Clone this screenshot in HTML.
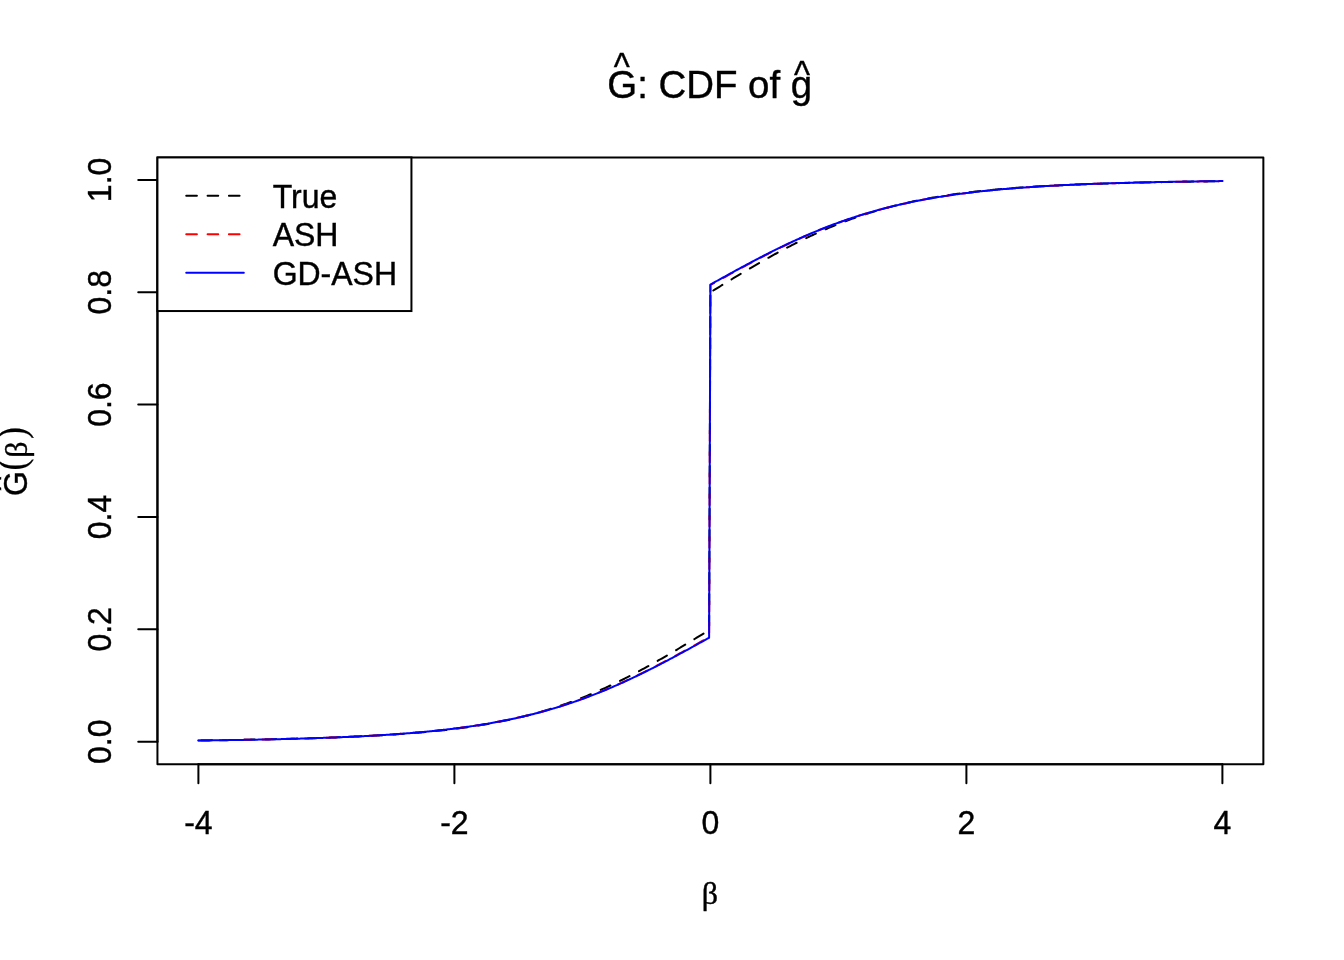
<!DOCTYPE html>
<html><head><meta charset="utf-8"><title>G-hat: CDF of g-hat</title>
<style>
html,body{margin:0;padding:0;background:#fff;}
svg{display:block;}
text{font-family:"Liberation Sans",Arial,Helvetica,sans-serif;fill:#000;stroke:#000;stroke-width:0.4px;}
.sym{font-family:"Liberation Serif","Times New Roman",serif;}
.par{font-family:"Liberation Serif","Times New Roman",serif;stroke-width:0.2px;}
.ln{fill:none;stroke-width:2;stroke-linecap:round;stroke-linejoin:round;}
</style></head><body>
<svg width="1344" height="960" viewBox="0 0 1344 960">
<rect width="1344" height="960" fill="#fff"/>

<polyline class="ln" stroke="#000" stroke-dasharray="10.667 10.667" stroke-dashoffset="-3.00" points="198.40,740.41 199.68,740.39 200.96,740.37 202.24,740.36 203.52,740.34 204.80,740.33 206.08,740.31 207.36,740.29 208.64,740.28 209.92,740.26 211.20,740.24 212.48,740.23 213.76,740.21 215.04,740.19 216.32,740.17 217.60,740.16 218.88,740.14 220.16,740.12 221.44,740.10 222.72,740.08 224.00,740.06 225.28,740.04 226.56,740.03 227.84,740.01 229.12,739.99 230.40,739.97 231.68,739.95 232.96,739.93 234.24,739.91 235.52,739.89 236.80,739.86 238.08,739.84 239.36,739.82 240.64,739.80 241.92,739.78 243.20,739.76 244.48,739.73 245.76,739.71 247.04,739.69 248.32,739.67 249.60,739.64 250.88,739.62 252.16,739.60 253.44,739.57 254.72,739.55 256.00,739.52 257.28,739.50 258.56,739.48 259.84,739.45 261.12,739.42 262.40,739.40 263.68,739.37 264.96,739.35 266.24,739.32 267.52,739.29 268.80,739.27 270.08,739.24 271.36,739.21 272.64,739.18 273.92,739.16 275.20,739.13 276.48,739.10 277.76,739.07 279.04,739.04 280.32,739.01 281.60,738.98 282.88,738.95 284.16,738.92 285.44,738.89 286.72,738.86 288.00,738.83 289.28,738.80 290.56,738.76 291.84,738.73 293.12,738.70 294.40,738.67 295.68,738.63 296.96,738.60 298.24,738.56 299.52,738.53 300.80,738.49 302.08,738.46 303.36,738.42 304.64,738.39 305.92,738.35 307.20,738.31 308.48,738.28 309.76,738.24 311.04,738.20 312.32,738.16 313.60,738.12 314.88,738.08 316.16,738.04 317.44,738.00 318.72,737.96 320.00,737.92 321.28,737.88 322.56,737.84 323.84,737.80 325.12,737.75 326.40,737.71 327.68,737.66 328.96,737.62 330.24,737.57 331.52,737.53 332.80,737.48 334.08,737.44 335.36,737.39 336.64,737.34 337.92,737.29 339.20,737.24 340.48,737.19 341.76,737.14 343.04,737.09 344.32,737.04 345.60,736.99 346.88,736.94 348.16,736.88 349.44,736.83 350.72,736.78 352.00,736.72 353.28,736.67 354.56,736.61 355.84,736.55 357.12,736.49 358.40,736.44 359.68,736.38 360.96,736.32 362.24,736.26 363.52,736.19 364.80,736.13 366.08,736.07 367.36,736.01 368.64,735.94 369.92,735.88 371.20,735.81 372.48,735.74 373.76,735.67 375.04,735.61 376.32,735.54 377.60,735.47 378.88,735.39 380.16,735.32 381.44,735.25 382.72,735.17 384.00,735.10 385.28,735.02 386.56,734.95 387.84,734.87 389.12,734.79 390.40,734.71 391.68,734.63 392.96,734.54 394.24,734.46 395.52,734.38 396.80,734.29 398.08,734.20 399.36,734.11 400.64,734.03 401.92,733.93 403.20,733.84 404.48,733.75 405.76,733.66 407.04,733.56 408.32,733.46 409.60,733.37 410.88,733.27 412.16,733.17 413.44,733.06 414.72,732.96 416.00,732.86 417.28,732.75 418.56,732.64 419.84,732.53 421.12,732.42 422.40,732.31 423.68,732.20 424.96,732.08 426.24,731.96 427.52,731.84 428.80,731.72 430.08,731.60 431.36,731.48 432.64,731.35 433.92,731.23 435.20,731.10 436.48,730.97 437.76,730.84 439.04,730.70 440.32,730.57 441.60,730.43 442.88,730.29 444.16,730.15 445.44,730.00 446.72,729.86 448.00,729.71 449.28,729.56 450.56,729.41 451.84,729.26 453.12,729.10 454.40,728.94 455.68,728.78 456.96,728.62 458.24,728.46 459.52,728.29 460.80,728.12 462.08,727.95 463.36,727.77 464.64,727.60 465.92,727.42 467.20,727.24 468.48,727.06 469.76,726.87 471.04,726.68 472.32,726.49 473.60,726.30 474.88,726.10 476.16,725.90 477.44,725.70 478.72,725.50 480.00,725.29 481.28,725.08 482.56,724.87 483.84,724.66 485.12,724.44 486.40,724.22 487.68,724.00 488.96,723.77 490.24,723.54 491.52,723.31 492.80,723.07 494.08,722.84 495.36,722.59 496.64,722.35 497.92,722.10 499.20,721.85 500.48,721.60 501.76,721.34 503.04,721.08 504.32,720.82 505.60,720.55 506.88,720.28 508.16,720.01 509.44,719.73 510.72,719.45 512.00,719.17 513.28,718.88 514.56,718.59 515.84,718.30 517.12,718.00 518.40,717.70 519.68,717.39 520.96,717.09 522.24,716.77 523.52,716.46 524.80,716.14 526.08,715.82 527.36,715.49 528.64,715.16 529.92,714.82 531.20,714.49 532.48,714.14 533.76,713.80 535.04,713.45 536.32,713.09 537.60,712.74 538.88,712.38 540.16,712.01 541.44,711.64 542.72,711.27 544.00,710.89 545.28,710.51 546.56,710.12 547.84,709.73 549.12,709.34 550.40,708.94 551.68,708.54 552.96,708.13 554.24,707.72 555.52,707.31 556.80,706.89 558.08,706.47 559.36,706.04 560.64,705.61 561.92,705.17 563.20,704.73 564.48,704.29 565.76,703.84 567.04,703.39 568.32,702.93 569.60,702.47 570.88,702.00 572.16,701.53 573.44,701.06 574.72,700.58 576.00,700.10 577.28,699.61 578.56,699.12 579.84,698.62 581.12,698.12 582.40,697.62 583.68,697.11 584.96,696.60 586.24,696.08 587.52,695.56 588.80,695.03 590.08,694.50 591.36,693.96 592.64,693.43 593.92,692.88 595.20,692.33 596.48,691.78 597.76,691.23 599.04,690.67 600.32,690.10 601.60,689.53 602.88,688.96 604.16,688.38 605.44,687.80 606.72,687.22 608.00,686.63 609.28,686.03 610.56,685.44 611.84,684.83 613.12,684.23 614.40,683.62 615.68,683.00 616.96,682.39 618.24,681.76 619.52,681.14 620.80,680.51 622.08,679.87 623.36,679.24 624.64,678.60 625.92,677.95 627.20,677.30 628.48,676.65 629.76,675.99 631.04,675.33 632.32,674.67 633.60,674.00 634.88,673.33 636.16,672.66 637.44,671.98 638.72,671.30 640.00,670.62 641.28,669.93 642.56,669.24 643.84,668.54 645.12,667.85 646.40,667.15 647.68,666.44 648.96,665.74 650.24,665.03 651.52,664.31 652.80,663.60 654.08,662.88 655.36,662.16 656.64,661.44 657.92,660.71 659.20,659.98 660.48,659.25 661.76,658.51 663.04,657.78 664.32,657.04 665.60,656.30 666.88,655.55 668.16,654.81 669.44,654.06 670.72,653.31 672.00,652.55 673.28,651.80 674.56,651.04 675.84,650.29 677.12,649.52 678.40,648.76 679.68,648.00 680.96,647.23 682.24,646.47 683.52,645.70 684.80,644.93 686.08,644.16 687.36,643.38 688.64,642.61 689.92,641.84 691.20,641.06 692.48,640.28 693.76,639.51 695.04,638.73 696.32,637.95 697.60,637.17 698.88,636.38 700.16,635.60 701.44,634.82 702.72,634.04 704.00,633.25 705.28,632.47 706.56,631.69 707.84,630.90 709.12,630.12 710.40,292.27"/>
<polyline class="ln" stroke="#000" stroke-dasharray="10.667 10.667" stroke-dashoffset="17.91" points="710.40,292.27 711.68,291.48 712.96,290.70 714.24,289.91 715.52,289.13 716.80,288.35 718.08,287.56 719.36,286.78 720.64,286.00 721.92,285.22 723.20,284.43 724.48,283.65 725.76,282.87 727.04,282.09 728.32,281.32 729.60,280.54 730.88,279.76 732.16,278.99 733.44,278.22 734.72,277.44 736.00,276.67 737.28,275.90 738.56,275.13 739.84,274.37 741.12,273.60 742.40,272.84 743.68,272.08 744.96,271.31 746.24,270.56 747.52,269.80 748.80,269.05 750.08,268.29 751.36,267.54 752.64,266.79 753.92,266.05 755.20,265.30 756.48,264.56 757.76,263.82 759.04,263.09 760.32,262.35 761.60,261.62 762.88,260.89 764.16,260.16 765.44,259.44 766.72,258.72 768.00,258.00 769.28,257.29 770.56,256.57 771.84,255.86 773.12,255.16 774.40,254.45 775.68,253.75 776.96,253.06 778.24,252.36 779.52,251.67 780.80,250.98 782.08,250.30 783.36,249.62 784.64,248.94 785.92,248.27 787.20,247.60 788.48,246.93 789.76,246.27 791.04,245.61 792.32,244.95 793.60,244.30 794.88,243.65 796.16,243.00 797.44,242.36 798.72,241.73 800.00,241.09 801.28,240.46 802.56,239.84 803.84,239.21 805.12,238.60 806.40,237.98 807.68,237.37 808.96,236.77 810.24,236.16 811.52,235.57 812.80,234.97 814.08,234.38 815.36,233.80 816.64,233.22 817.92,232.64 819.20,232.07 820.48,231.50 821.76,230.93 823.04,230.37 824.32,229.82 825.60,229.27 826.88,228.72 828.16,228.17 829.44,227.64 830.72,227.10 832.00,226.57 833.28,226.04 834.56,225.52 835.84,225.00 837.12,224.49 838.40,223.98 839.68,223.48 840.96,222.98 842.24,222.48 843.52,221.99 844.80,221.50 846.08,221.02 847.36,220.54 848.64,220.07 849.92,219.60 851.20,219.13 852.48,218.67 853.76,218.21 855.04,217.76 856.32,217.31 857.60,216.87 858.88,216.43 860.16,215.99 861.44,215.56 862.72,215.13 864.00,214.71 865.28,214.29 866.56,213.88 867.84,213.47 869.12,213.06 870.40,212.66 871.68,212.26 872.96,211.87 874.24,211.48 875.52,211.09 876.80,210.71 878.08,210.33 879.36,209.96 880.64,209.59 881.92,209.22 883.20,208.86 884.48,208.51 885.76,208.15 887.04,207.80 888.32,207.46 889.60,207.11 890.88,206.78 892.16,206.44 893.44,206.11 894.72,205.78 896.00,205.46 897.28,205.14 898.56,204.83 899.84,204.51 901.12,204.21 902.40,203.90 903.68,203.60 904.96,203.30 906.24,203.01 907.52,202.72 908.80,202.43 910.08,202.15 911.36,201.87 912.64,201.59 913.92,201.32 915.20,201.05 916.48,200.78 917.76,200.52 919.04,200.26 920.32,200.00 921.60,199.75 922.88,199.50 924.16,199.25 925.44,199.01 926.72,198.76 928.00,198.53 929.28,198.29 930.56,198.06 931.84,197.83 933.12,197.60 934.40,197.38 935.68,197.16 936.96,196.94 938.24,196.73 939.52,196.52 940.80,196.31 942.08,196.10 943.36,195.90 944.64,195.70 945.92,195.50 947.20,195.30 948.48,195.11 949.76,194.92 951.04,194.73 952.32,194.54 953.60,194.36 954.88,194.18 956.16,194.00 957.44,193.83 958.72,193.65 960.00,193.48 961.28,193.31 962.56,193.14 963.84,192.98 965.12,192.82 966.40,192.66 967.68,192.50 968.96,192.34 970.24,192.19 971.52,192.04 972.80,191.89 974.08,191.74 975.36,191.60 976.64,191.45 977.92,191.31 979.20,191.17 980.48,191.03 981.76,190.90 983.04,190.76 984.32,190.63 985.60,190.50 986.88,190.37 988.16,190.25 989.44,190.12 990.72,190.00 992.00,189.88 993.28,189.76 994.56,189.64 995.84,189.52 997.12,189.40 998.40,189.29 999.68,189.18 1000.96,189.07 1002.24,188.96 1003.52,188.85 1004.80,188.74 1006.08,188.64 1007.36,188.54 1008.64,188.43 1009.92,188.33 1011.20,188.23 1012.48,188.14 1013.76,188.04 1015.04,187.94 1016.32,187.85 1017.60,187.76 1018.88,187.67 1020.16,187.57 1021.44,187.49 1022.72,187.40 1024.00,187.31 1025.28,187.22 1026.56,187.14 1027.84,187.06 1029.12,186.97 1030.40,186.89 1031.68,186.81 1032.96,186.73 1034.24,186.65 1035.52,186.58 1036.80,186.50 1038.08,186.43 1039.36,186.35 1040.64,186.28 1041.92,186.21 1043.20,186.13 1044.48,186.06 1045.76,185.99 1047.04,185.93 1048.32,185.86 1049.60,185.79 1050.88,185.72 1052.16,185.66 1053.44,185.59 1054.72,185.53 1056.00,185.47 1057.28,185.41 1058.56,185.34 1059.84,185.28 1061.12,185.22 1062.40,185.16 1063.68,185.11 1064.96,185.05 1066.24,184.99 1067.52,184.93 1068.80,184.88 1070.08,184.82 1071.36,184.77 1072.64,184.72 1073.92,184.66 1075.20,184.61 1076.48,184.56 1077.76,184.51 1079.04,184.46 1080.32,184.41 1081.60,184.36 1082.88,184.31 1084.16,184.26 1085.44,184.21 1086.72,184.16 1088.00,184.12 1089.28,184.07 1090.56,184.03 1091.84,183.98 1093.12,183.94 1094.40,183.89 1095.68,183.85 1096.96,183.80 1098.24,183.76 1099.52,183.72 1100.80,183.68 1102.08,183.64 1103.36,183.60 1104.64,183.56 1105.92,183.52 1107.20,183.48 1108.48,183.44 1109.76,183.40 1111.04,183.36 1112.32,183.32 1113.60,183.29 1114.88,183.25 1116.16,183.21 1117.44,183.18 1118.72,183.14 1120.00,183.11 1121.28,183.07 1122.56,183.04 1123.84,183.00 1125.12,182.97 1126.40,182.93 1127.68,182.90 1128.96,182.87 1130.24,182.84 1131.52,182.80 1132.80,182.77 1134.08,182.74 1135.36,182.71 1136.64,182.68 1137.92,182.65 1139.20,182.62 1140.48,182.59 1141.76,182.56 1143.04,182.53 1144.32,182.50 1145.60,182.47 1146.88,182.44 1148.16,182.42 1149.44,182.39 1150.72,182.36 1152.00,182.33 1153.28,182.31 1154.56,182.28 1155.84,182.25 1157.12,182.23 1158.40,182.20 1159.68,182.18 1160.96,182.15 1162.24,182.12 1163.52,182.10 1164.80,182.08 1166.08,182.05 1167.36,182.03 1168.64,182.00 1169.92,181.98 1171.20,181.96 1172.48,181.93 1173.76,181.91 1175.04,181.89 1176.32,181.87 1177.60,181.84 1178.88,181.82 1180.16,181.80 1181.44,181.78 1182.72,181.76 1184.00,181.74 1185.28,181.71 1186.56,181.69 1187.84,181.67 1189.12,181.65 1190.40,181.63 1191.68,181.61 1192.96,181.59 1194.24,181.57 1195.52,181.56 1196.80,181.54 1198.08,181.52 1199.36,181.50 1200.64,181.48 1201.92,181.46 1203.20,181.44 1204.48,181.43 1205.76,181.41 1207.04,181.39 1208.32,181.37 1209.60,181.36 1210.88,181.34 1212.16,181.32 1213.44,181.31 1214.72,181.29 1216.00,181.27 1217.28,181.26 1218.56,181.24 1219.84,181.23 1221.12,181.21 1222.40,181.19"/>
<polyline class="ln" stroke="#f00" stroke-dasharray="10.667 10.667" points="198.40,740.51 199.68,740.49 200.96,740.48 202.24,740.46 203.52,740.45 204.80,740.43 206.08,740.42 207.36,740.40 208.64,740.38 209.92,740.37 211.20,740.35 212.48,740.34 213.76,740.32 215.04,740.30 216.32,740.29 217.60,740.27 218.88,740.25 220.16,740.23 221.44,740.22 222.72,740.20 224.00,740.18 225.28,740.16 226.56,740.14 227.84,740.12 229.12,740.10 230.40,740.08 231.68,740.06 232.96,740.05 234.24,740.03 235.52,740.00 236.80,739.98 238.08,739.96 239.36,739.94 240.64,739.92 241.92,739.90 243.20,739.88 244.48,739.86 245.76,739.83 247.04,739.81 248.32,739.79 249.60,739.77 250.88,739.74 252.16,739.72 253.44,739.69 254.72,739.67 256.00,739.65 257.28,739.62 258.56,739.60 259.84,739.57 261.12,739.55 262.40,739.52 263.68,739.49 264.96,739.47 266.24,739.44 267.52,739.41 268.80,739.39 270.08,739.36 271.36,739.33 272.64,739.30 273.92,739.27 275.20,739.24 276.48,739.21 277.76,739.18 279.04,739.15 280.32,739.12 281.60,739.09 282.88,739.06 284.16,739.03 285.44,739.00 286.72,738.97 288.00,738.93 289.28,738.90 290.56,738.87 291.84,738.83 293.12,738.80 294.40,738.76 295.68,738.73 296.96,738.69 298.24,738.66 299.52,738.62 300.80,738.58 302.08,738.55 303.36,738.51 304.64,738.47 305.92,738.43 307.20,738.39 308.48,738.35 309.76,738.31 311.04,738.27 312.32,738.23 313.60,738.19 314.88,738.15 316.16,738.11 317.44,738.06 318.72,738.02 320.00,737.98 321.28,737.93 322.56,737.89 323.84,737.84 325.12,737.80 326.40,737.75 327.68,737.70 328.96,737.66 330.24,737.61 331.52,737.56 332.80,737.51 334.08,737.46 335.36,737.41 336.64,737.36 337.92,737.30 339.20,737.25 340.48,737.20 341.76,737.15 343.04,737.09 344.32,737.04 345.60,736.98 346.88,736.92 348.16,736.87 349.44,736.81 350.72,736.75 352.00,736.69 353.28,736.63 354.56,736.57 355.84,736.51 357.12,736.45 358.40,736.38 359.68,736.32 360.96,736.25 362.24,736.19 363.52,736.12 364.80,736.06 366.08,735.99 367.36,735.92 368.64,735.85 369.92,735.78 371.20,735.71 372.48,735.64 373.76,735.56 375.04,735.49 376.32,735.41 377.60,735.34 378.88,735.26 380.16,735.18 381.44,735.10 382.72,735.02 384.00,734.94 385.28,734.86 386.56,734.78 387.84,734.70 389.12,734.61 390.40,734.53 391.68,734.44 392.96,734.35 394.24,734.26 395.52,734.17 396.80,734.08 398.08,733.99 399.36,733.89 400.64,733.80 401.92,733.70 403.20,733.61 404.48,733.51 405.76,733.41 407.04,733.31 408.32,733.20 409.60,733.10 410.88,733.00 412.16,732.89 413.44,732.78 414.72,732.67 416.00,732.56 417.28,732.45 418.56,732.34 419.84,732.22 421.12,732.11 422.40,731.99 423.68,731.87 424.96,731.75 426.24,731.63 427.52,731.51 428.80,731.38 430.08,731.26 431.36,731.13 432.64,731.00 433.92,730.87 435.20,730.73 436.48,730.60 437.76,730.46 439.04,730.33 440.32,730.19 441.60,730.04 442.88,729.90 444.16,729.76 445.44,729.61 446.72,729.46 448.00,729.31 449.28,729.16 450.56,729.00 451.84,728.85 453.12,728.69 454.40,728.53 455.68,728.37 456.96,728.21 458.24,728.04 459.52,727.87 460.80,727.70 462.08,727.53 463.36,727.36 464.64,727.18 465.92,727.00 467.20,726.82 468.48,726.64 469.76,726.45 471.04,726.26 472.32,726.08 473.60,725.88 474.88,725.69 476.16,725.49 477.44,725.29 478.72,725.09 480.00,724.89 481.28,724.68 482.56,724.47 483.84,724.26 485.12,724.05 486.40,723.83 487.68,723.62 488.96,723.39 490.24,723.17 491.52,722.94 492.80,722.72 494.08,722.48 495.36,722.25 496.64,722.01 497.92,721.77 499.20,721.53 500.48,721.29 501.76,721.04 503.04,720.79 504.32,720.53 505.60,720.28 506.88,720.02 508.16,719.75 509.44,719.49 510.72,719.22 512.00,718.95 513.28,718.67 514.56,718.40 515.84,718.12 517.12,717.83 518.40,717.55 519.68,717.26 520.96,716.96 522.24,716.67 523.52,716.37 524.80,716.06 526.08,715.76 527.36,715.45 528.64,715.14 529.92,714.82 531.20,714.50 532.48,714.18 533.76,713.85 535.04,713.53 536.32,713.19 537.60,712.86 538.88,712.52 540.16,712.18 541.44,711.83 542.72,711.48 544.00,711.13 545.28,710.77 546.56,710.41 547.84,710.05 549.12,709.68 550.40,709.31 551.68,708.93 552.96,708.55 554.24,708.17 555.52,707.79 556.80,707.40 558.08,707.01 559.36,706.61 560.64,706.21 561.92,705.80 563.20,705.40 564.48,704.99 565.76,704.57 567.04,704.15 568.32,703.73 569.60,703.30 570.88,702.87 572.16,702.44 573.44,702.00 574.72,701.56 576.00,701.12 577.28,700.67 578.56,700.21 579.84,699.76 581.12,699.30 582.40,698.83 583.68,698.36 584.96,697.89 586.24,697.42 587.52,696.94 588.80,696.45 590.08,695.97 591.36,695.48 592.64,694.98 593.92,694.48 595.20,693.98 596.48,693.47 597.76,692.97 599.04,692.45 600.32,691.93 601.60,691.41 602.88,690.89 604.16,690.36 605.44,689.83 606.72,689.29 608.00,688.75 609.28,688.21 610.56,687.66 611.84,687.11 613.12,686.56 614.40,686.00 615.68,685.44 616.96,684.87 618.24,684.31 619.52,683.73 620.80,683.16 622.08,682.58 623.36,682.00 624.64,681.41 625.92,680.82 627.20,680.23 628.48,679.63 629.76,679.03 631.04,678.43 632.32,677.83 633.60,677.22 634.88,676.61 636.16,675.99 637.44,675.37 638.72,674.75 640.00,674.13 641.28,673.50 642.56,672.87 643.84,672.23 645.12,671.60 646.40,670.96 647.68,670.32 648.96,669.67 650.24,669.02 651.52,668.37 652.80,667.72 654.08,667.06 655.36,666.41 656.64,665.75 657.92,665.08 659.20,664.42 660.48,663.75 661.76,663.08 663.04,662.41 664.32,661.73 665.60,661.05 666.88,660.38 668.16,659.69 669.44,659.01 670.72,658.33 672.00,657.64 673.28,656.95 674.56,656.26 675.84,655.57 677.12,654.87 678.40,654.18 679.68,653.48 680.96,652.78 682.24,652.08 683.52,651.38 684.80,650.68 686.08,649.97 687.36,649.27 688.64,648.56 689.92,647.85 691.20,647.14 692.48,646.43 693.76,645.72 695.04,645.01 696.32,644.30 697.60,643.59 698.88,642.87 700.16,642.16 701.44,641.45 702.72,640.73 704.00,640.01 705.28,639.30 706.56,638.58 707.84,637.87 709.12,637.15 710.40,285.17 711.68,284.45 712.96,283.73 714.24,283.02 715.52,282.30 716.80,281.59 718.08,280.87 719.36,280.15 720.64,279.44 721.92,278.73 723.20,278.01 724.48,277.30 725.76,276.59 727.04,275.88 728.32,275.17 729.60,274.46 730.88,273.75 732.16,273.04 733.44,272.33 734.72,271.63 736.00,270.92 737.28,270.22 738.56,269.52 739.84,268.82 741.12,268.12 742.40,267.42 743.68,266.73 744.96,266.03 746.24,265.34 747.52,264.65 748.80,263.96 750.08,263.27 751.36,262.59 752.64,261.91 753.92,261.22 755.20,260.55 756.48,259.87 757.76,259.19 759.04,258.52 760.32,257.85 761.60,257.18 762.88,256.52 764.16,255.85 765.44,255.19 766.72,254.54 768.00,253.88 769.28,253.23 770.56,252.58 771.84,251.93 773.12,251.28 774.40,250.64 775.68,250.00 776.96,249.37 778.24,248.73 779.52,248.10 780.80,247.47 782.08,246.85 783.36,246.23 784.64,245.61 785.92,244.99 787.20,244.38 788.48,243.77 789.76,243.17 791.04,242.57 792.32,241.97 793.60,241.37 794.88,240.78 796.16,240.19 797.44,239.60 798.72,239.02 800.00,238.44 801.28,237.87 802.56,237.29 803.84,236.73 805.12,236.16 806.40,235.60 807.68,235.04 808.96,234.49 810.24,233.94 811.52,233.39 812.80,232.85 814.08,232.31 815.36,231.77 816.64,231.24 817.92,230.71 819.20,230.19 820.48,229.67 821.76,229.15 823.04,228.63 824.32,228.13 825.60,227.62 826.88,227.12 828.16,226.62 829.44,226.12 830.72,225.63 832.00,225.15 833.28,224.66 834.56,224.18 835.84,223.71 837.12,223.24 838.40,222.77 839.68,222.30 840.96,221.84 842.24,221.39 843.52,220.93 844.80,220.48 846.08,220.04 847.36,219.60 848.64,219.16 849.92,218.73 851.20,218.30 852.48,217.87 853.76,217.45 855.04,217.03 856.32,216.61 857.60,216.20 858.88,215.80 860.16,215.39 861.44,214.99 862.72,214.59 864.00,214.20 865.28,213.81 866.56,213.43 867.84,213.05 869.12,212.67 870.40,212.29 871.68,211.92 872.96,211.55 874.24,211.19 875.52,210.83 876.80,210.47 878.08,210.12 879.36,209.77 880.64,209.42 881.92,209.08 883.20,208.74 884.48,208.41 885.76,208.07 887.04,207.75 888.32,207.42 889.60,207.10 890.88,206.78 892.16,206.46 893.44,206.15 894.72,205.84 896.00,205.54 897.28,205.23 898.56,204.93 899.84,204.64 901.12,204.34 902.40,204.05 903.68,203.77 904.96,203.48 906.24,203.20 907.52,202.93 908.80,202.65 910.08,202.38 911.36,202.11 912.64,201.85 913.92,201.58 915.20,201.32 916.48,201.07 917.76,200.81 919.04,200.56 920.32,200.31 921.60,200.07 922.88,199.83 924.16,199.59 925.44,199.35 926.72,199.12 928.00,198.88 929.28,198.66 930.56,198.43 931.84,198.21 933.12,197.98 934.40,197.77 935.68,197.55 936.96,197.34 938.24,197.13 939.52,196.92 940.80,196.71 942.08,196.51 943.36,196.31 944.64,196.11 945.92,195.91 947.20,195.72 948.48,195.52 949.76,195.34 951.04,195.15 952.32,194.96 953.60,194.78 954.88,194.60 956.16,194.42 957.44,194.24 958.72,194.07 960.00,193.90 961.28,193.73 962.56,193.56 963.84,193.39 965.12,193.23 966.40,193.07 967.68,192.91 968.96,192.75 970.24,192.60 971.52,192.44 972.80,192.29 974.08,192.14 975.36,191.99 976.64,191.84 977.92,191.70 979.20,191.56 980.48,191.41 981.76,191.27 983.04,191.14 984.32,191.00 985.60,190.87 986.88,190.73 988.16,190.60 989.44,190.47 990.72,190.34 992.00,190.22 993.28,190.09 994.56,189.97 995.84,189.85 997.12,189.73 998.40,189.61 999.68,189.49 1000.96,189.38 1002.24,189.26 1003.52,189.15 1004.80,189.04 1006.08,188.93 1007.36,188.82 1008.64,188.71 1009.92,188.60 1011.20,188.50 1012.48,188.40 1013.76,188.29 1015.04,188.19 1016.32,188.09 1017.60,187.99 1018.88,187.90 1020.16,187.80 1021.44,187.71 1022.72,187.61 1024.00,187.52 1025.28,187.43 1026.56,187.34 1027.84,187.25 1029.12,187.16 1030.40,187.07 1031.68,186.99 1032.96,186.90 1034.24,186.82 1035.52,186.74 1036.80,186.66 1038.08,186.58 1039.36,186.50 1040.64,186.42 1041.92,186.34 1043.20,186.26 1044.48,186.19 1045.76,186.11 1047.04,186.04 1048.32,185.96 1049.60,185.89 1050.88,185.82 1052.16,185.75 1053.44,185.68 1054.72,185.61 1056.00,185.54 1057.28,185.48 1058.56,185.41 1059.84,185.35 1061.12,185.28 1062.40,185.22 1063.68,185.15 1064.96,185.09 1066.24,185.03 1067.52,184.97 1068.80,184.91 1070.08,184.85 1071.36,184.79 1072.64,184.73 1073.92,184.68 1075.20,184.62 1076.48,184.56 1077.76,184.51 1079.04,184.45 1080.32,184.40 1081.60,184.35 1082.88,184.30 1084.16,184.24 1085.44,184.19 1086.72,184.14 1088.00,184.09 1089.28,184.04 1090.56,183.99 1091.84,183.94 1093.12,183.90 1094.40,183.85 1095.68,183.80 1096.96,183.76 1098.24,183.71 1099.52,183.67 1100.80,183.62 1102.08,183.58 1103.36,183.54 1104.64,183.49 1105.92,183.45 1107.20,183.41 1108.48,183.37 1109.76,183.33 1111.04,183.29 1112.32,183.25 1113.60,183.21 1114.88,183.17 1116.16,183.13 1117.44,183.09 1118.72,183.05 1120.00,183.02 1121.28,182.98 1122.56,182.94 1123.84,182.91 1125.12,182.87 1126.40,182.84 1127.68,182.80 1128.96,182.77 1130.24,182.73 1131.52,182.70 1132.80,182.67 1134.08,182.63 1135.36,182.60 1136.64,182.57 1137.92,182.54 1139.20,182.51 1140.48,182.48 1141.76,182.45 1143.04,182.42 1144.32,182.39 1145.60,182.36 1146.88,182.33 1148.16,182.30 1149.44,182.27 1150.72,182.24 1152.00,182.21 1153.28,182.19 1154.56,182.16 1155.84,182.13 1157.12,182.11 1158.40,182.08 1159.68,182.05 1160.96,182.03 1162.24,182.00 1163.52,181.98 1164.80,181.95 1166.08,181.93 1167.36,181.91 1168.64,181.88 1169.92,181.86 1171.20,181.83 1172.48,181.81 1173.76,181.79 1175.04,181.77 1176.32,181.74 1177.60,181.72 1178.88,181.70 1180.16,181.68 1181.44,181.66 1182.72,181.64 1184.00,181.62 1185.28,181.60 1186.56,181.57 1187.84,181.55 1189.12,181.54 1190.40,181.52 1191.68,181.50 1192.96,181.48 1194.24,181.46 1195.52,181.44 1196.80,181.42 1198.08,181.40 1199.36,181.38 1200.64,181.37 1201.92,181.35 1203.20,181.33 1204.48,181.31 1205.76,181.30 1207.04,181.28 1208.32,181.26 1209.60,181.25 1210.88,181.23 1212.16,181.22 1213.44,181.20 1214.72,181.18 1216.00,181.17 1217.28,181.15 1218.56,181.14 1219.84,181.12 1221.12,181.11 1222.40,181.09"/>
<polyline class="ln" stroke="#00f" points="198.40,740.52 199.68,740.50 200.96,740.49 202.24,740.47 203.52,740.46 204.80,740.44 206.08,740.43 207.36,740.41 208.64,740.40 209.92,740.38 211.20,740.37 212.48,740.35 213.76,740.33 215.04,740.32 216.32,740.30 217.60,740.28 218.88,740.26 220.16,740.25 221.44,740.23 222.72,740.21 224.00,740.19 225.28,740.17 226.56,740.16 227.84,740.14 229.12,740.12 230.40,740.10 231.68,740.08 232.96,740.06 234.24,740.04 235.52,740.02 236.80,740.00 238.08,739.98 239.36,739.96 240.64,739.94 241.92,739.92 243.20,739.89 244.48,739.87 245.76,739.85 247.04,739.83 248.32,739.81 249.60,739.78 250.88,739.76 252.16,739.74 253.44,739.71 254.72,739.69 256.00,739.66 257.28,739.64 258.56,739.61 259.84,739.59 261.12,739.56 262.40,739.54 263.68,739.51 264.96,739.49 266.24,739.46 267.52,739.43 268.80,739.40 270.08,739.38 271.36,739.35 272.64,739.32 273.92,739.29 275.20,739.26 276.48,739.23 277.76,739.20 279.04,739.17 280.32,739.14 281.60,739.11 282.88,739.08 284.16,739.05 285.44,739.02 286.72,738.99 288.00,738.95 289.28,738.92 290.56,738.89 291.84,738.85 293.12,738.82 294.40,738.79 295.68,738.75 296.96,738.72 298.24,738.68 299.52,738.64 300.80,738.61 302.08,738.57 303.36,738.53 304.64,738.50 305.92,738.46 307.20,738.42 308.48,738.38 309.76,738.34 311.04,738.30 312.32,738.26 313.60,738.22 314.88,738.18 316.16,738.13 317.44,738.09 318.72,738.05 320.00,738.00 321.28,737.96 322.56,737.91 323.84,737.87 325.12,737.82 326.40,737.78 327.68,737.73 328.96,737.68 330.24,737.63 331.52,737.59 332.80,737.54 334.08,737.49 335.36,737.44 336.64,737.38 337.92,737.33 339.20,737.28 340.48,737.23 341.76,737.17 343.04,737.12 344.32,737.06 345.60,737.01 346.88,736.95 348.16,736.90 349.44,736.84 350.72,736.78 352.00,736.72 353.28,736.66 354.56,736.60 355.84,736.54 357.12,736.48 358.40,736.41 359.68,736.35 360.96,736.29 362.24,736.22 363.52,736.15 364.80,736.09 366.08,736.02 367.36,735.95 368.64,735.88 369.92,735.81 371.20,735.74 372.48,735.67 373.76,735.59 375.04,735.52 376.32,735.45 377.60,735.37 378.88,735.29 380.16,735.22 381.44,735.14 382.72,735.06 384.00,734.98 385.28,734.90 386.56,734.81 387.84,734.73 389.12,734.65 390.40,734.56 391.68,734.47 392.96,734.39 394.24,734.30 395.52,734.21 396.80,734.11 398.08,734.02 399.36,733.93 400.64,733.83 401.92,733.74 403.20,733.64 404.48,733.54 405.76,733.44 407.04,733.34 408.32,733.24 409.60,733.14 410.88,733.03 412.16,732.93 413.44,732.82 414.72,732.71 416.00,732.60 417.28,732.49 418.56,732.38 419.84,732.26 421.12,732.15 422.40,732.03 423.68,731.91 424.96,731.79 426.24,731.67 427.52,731.55 428.80,731.42 430.08,731.29 431.36,731.17 432.64,731.04 433.92,730.91 435.20,730.77 436.48,730.64 437.76,730.50 439.04,730.36 440.32,730.23 441.60,730.08 442.88,729.94 444.16,729.80 445.44,729.65 446.72,729.50 448.00,729.35 449.28,729.20 450.56,729.05 451.84,728.89 453.12,728.73 454.40,728.57 455.68,728.41 456.96,728.25 458.24,728.08 459.52,727.91 460.80,727.74 462.08,727.57 463.36,727.40 464.64,727.22 465.92,727.04 467.20,726.86 468.48,726.68 469.76,726.49 471.04,726.31 472.32,726.12 473.60,725.93 474.88,725.73 476.16,725.54 477.44,725.34 478.72,725.14 480.00,724.93 481.28,724.73 482.56,724.52 483.84,724.31 485.12,724.09 486.40,723.88 487.68,723.66 488.96,723.44 490.24,723.22 491.52,722.99 492.80,722.76 494.08,722.53 495.36,722.30 496.64,722.06 497.92,721.82 499.20,721.58 500.48,721.33 501.76,721.08 503.04,720.83 504.32,720.58 505.60,720.32 506.88,720.07 508.16,719.80 509.44,719.54 510.72,719.27 512.00,719.00 513.28,718.73 514.56,718.45 515.84,718.17 517.12,717.89 518.40,717.60 519.68,717.31 520.96,717.02 522.24,716.72 523.52,716.42 524.80,716.12 526.08,715.82 527.36,715.51 528.64,715.20 529.92,714.88 531.20,714.56 532.48,714.24 533.76,713.92 535.04,713.59 536.32,713.26 537.60,712.92 538.88,712.58 540.16,712.24 541.44,711.90 542.72,711.55 544.00,711.19 545.28,710.84 546.56,710.48 547.84,710.12 549.12,709.75 550.40,709.38 551.68,709.01 552.96,708.63 554.24,708.25 555.52,707.87 556.80,707.48 558.08,707.09 559.36,706.69 560.64,706.29 561.92,705.89 563.20,705.49 564.48,705.08 565.76,704.66 567.04,704.24 568.32,703.82 569.60,703.40 570.88,702.97 572.16,702.54 573.44,702.10 574.72,701.66 576.00,701.22 577.28,700.77 578.56,700.32 579.84,699.87 581.12,699.41 582.40,698.95 583.68,698.48 584.96,698.01 586.24,697.54 587.52,697.06 588.80,696.58 590.08,696.10 591.36,695.61 592.64,695.12 593.92,694.62 595.20,694.12 596.48,693.62 597.76,693.11 599.04,692.60 600.32,692.09 601.60,691.57 602.88,691.05 604.16,690.52 605.44,689.99 606.72,689.46 608.00,688.93 609.28,688.39 610.56,687.84 611.84,687.30 613.12,686.75 614.40,686.19 615.68,685.63 616.96,685.07 618.24,684.51 619.52,683.94 620.80,683.37 622.08,682.79 623.36,682.22 624.64,681.63 625.92,681.05 627.20,680.46 628.48,679.87 629.76,679.27 631.04,678.68 632.32,678.08 633.60,677.47 634.88,676.86 636.16,676.25 637.44,675.64 638.72,675.02 640.00,674.40 641.28,673.78 642.56,673.15 643.84,672.53 645.12,671.89 646.40,671.26 647.68,670.62 648.96,669.98 650.24,669.34 651.52,668.70 652.80,668.05 654.08,667.40 655.36,666.75 656.64,666.09 657.92,665.43 659.20,664.77 660.48,664.11 661.76,663.45 663.04,662.78 664.32,662.11 665.60,661.44 666.88,660.77 668.16,660.09 669.44,659.42 670.72,658.74 672.00,658.06 673.28,657.37 674.56,656.69 675.84,656.00 677.12,655.32 678.40,654.63 679.68,653.94 680.96,653.24 682.24,652.55 683.52,651.85 684.80,651.16 686.08,650.46 687.36,649.76 688.64,649.06 689.92,648.36 691.20,647.66 692.48,646.96 693.76,646.25 695.04,645.55 696.32,644.84 697.60,644.14 698.88,643.43 700.16,642.72 701.44,642.01 702.72,641.31 704.00,640.60 705.28,639.89 706.56,639.18 707.84,638.47 709.12,637.76 710.40,284.55 711.68,283.84 712.96,283.13 714.24,282.42 715.52,281.71 716.80,281.00 718.08,280.29 719.36,279.59 720.64,278.88 721.92,278.17 723.20,277.46 724.48,276.76 725.76,276.05 727.04,275.35 728.32,274.64 729.60,273.94 730.88,273.24 732.16,272.54 733.44,271.84 734.72,271.14 736.00,270.44 737.28,269.75 738.56,269.05 739.84,268.36 741.12,267.66 742.40,266.97 743.68,266.28 744.96,265.60 746.24,264.91 747.52,264.23 748.80,263.54 750.08,262.86 751.36,262.18 752.64,261.51 753.92,260.83 755.20,260.16 756.48,259.49 757.76,258.82 759.04,258.15 760.32,257.49 761.60,256.83 762.88,256.17 764.16,255.51 765.44,254.85 766.72,254.20 768.00,253.55 769.28,252.90 770.56,252.26 771.84,251.62 773.12,250.98 774.40,250.34 775.68,249.71 776.96,249.07 778.24,248.45 779.52,247.82 780.80,247.20 782.08,246.58 783.36,245.96 784.64,245.35 785.92,244.74 787.20,244.13 788.48,243.52 789.76,242.92 791.04,242.33 792.32,241.73 793.60,241.14 794.88,240.55 796.16,239.97 797.44,239.38 798.72,238.81 800.00,238.23 801.28,237.66 802.56,237.09 803.84,236.53 805.12,235.97 806.40,235.41 807.68,234.85 808.96,234.30 810.24,233.76 811.52,233.21 812.80,232.67 814.08,232.14 815.36,231.61 816.64,231.08 817.92,230.55 819.20,230.03 820.48,229.51 821.76,229.00 823.04,228.49 824.32,227.98 825.60,227.48 826.88,226.98 828.16,226.48 829.44,225.99 830.72,225.50 832.00,225.02 833.28,224.54 834.56,224.06 835.84,223.59 837.12,223.12 838.40,222.65 839.68,222.19 840.96,221.73 842.24,221.28 843.52,220.83 844.80,220.38 846.08,219.94 847.36,219.50 848.64,219.06 849.92,218.63 851.20,218.20 852.48,217.78 853.76,217.36 855.04,216.94 856.32,216.52 857.60,216.11 858.88,215.71 860.16,215.31 861.44,214.91 862.72,214.51 864.00,214.12 865.28,213.73 866.56,213.35 867.84,212.97 869.12,212.59 870.40,212.22 871.68,211.85 872.96,211.48 874.24,211.12 875.52,210.76 876.80,210.41 878.08,210.05 879.36,209.70 880.64,209.36 881.92,209.02 883.20,208.68 884.48,208.34 885.76,208.01 887.04,207.68 888.32,207.36 889.60,207.04 890.88,206.72 892.16,206.40 893.44,206.09 894.72,205.78 896.00,205.48 897.28,205.18 898.56,204.88 899.84,204.58 901.12,204.29 902.40,204.00 903.68,203.71 904.96,203.43 906.24,203.15 907.52,202.87 908.80,202.60 910.08,202.33 911.36,202.06 912.64,201.80 913.92,201.53 915.20,201.28 916.48,201.02 917.76,200.77 919.04,200.52 920.32,200.27 921.60,200.02 922.88,199.78 924.16,199.54 925.44,199.30 926.72,199.07 928.00,198.84 929.28,198.61 930.56,198.38 931.84,198.16 933.12,197.94 934.40,197.72 935.68,197.51 936.96,197.29 938.24,197.08 939.52,196.87 940.80,196.67 942.08,196.46 943.36,196.26 944.64,196.06 945.92,195.87 947.20,195.67 948.48,195.48 949.76,195.29 951.04,195.11 952.32,194.92 953.60,194.74 954.88,194.56 956.16,194.38 957.44,194.20 958.72,194.03 960.00,193.86 961.28,193.69 962.56,193.52 963.84,193.35 965.12,193.19 966.40,193.03 967.68,192.87 968.96,192.71 970.24,192.55 971.52,192.40 972.80,192.25 974.08,192.10 975.36,191.95 976.64,191.80 977.92,191.66 979.20,191.52 980.48,191.37 981.76,191.24 983.04,191.10 984.32,190.96 985.60,190.83 986.88,190.69 988.16,190.56 989.44,190.43 990.72,190.31 992.00,190.18 993.28,190.05 994.56,189.93 995.84,189.81 997.12,189.69 998.40,189.57 999.68,189.45 1000.96,189.34 1002.24,189.22 1003.52,189.11 1004.80,189.00 1006.08,188.89 1007.36,188.78 1008.64,188.67 1009.92,188.57 1011.20,188.46 1012.48,188.36 1013.76,188.26 1015.04,188.16 1016.32,188.06 1017.60,187.96 1018.88,187.86 1020.16,187.77 1021.44,187.67 1022.72,187.58 1024.00,187.49 1025.28,187.39 1026.56,187.30 1027.84,187.21 1029.12,187.13 1030.40,187.04 1031.68,186.95 1032.96,186.87 1034.24,186.79 1035.52,186.70 1036.80,186.62 1038.08,186.54 1039.36,186.46 1040.64,186.38 1041.92,186.31 1043.20,186.23 1044.48,186.15 1045.76,186.08 1047.04,186.01 1048.32,185.93 1049.60,185.86 1050.88,185.79 1052.16,185.72 1053.44,185.65 1054.72,185.58 1056.00,185.51 1057.28,185.45 1058.56,185.38 1059.84,185.31 1061.12,185.25 1062.40,185.19 1063.68,185.12 1064.96,185.06 1066.24,185.00 1067.52,184.94 1068.80,184.88 1070.08,184.82 1071.36,184.76 1072.64,184.70 1073.92,184.65 1075.20,184.59 1076.48,184.54 1077.76,184.48 1079.04,184.43 1080.32,184.37 1081.60,184.32 1082.88,184.27 1084.16,184.22 1085.44,184.16 1086.72,184.11 1088.00,184.06 1089.28,184.01 1090.56,183.97 1091.84,183.92 1093.12,183.87 1094.40,183.82 1095.68,183.78 1096.96,183.73 1098.24,183.69 1099.52,183.64 1100.80,183.60 1102.08,183.55 1103.36,183.51 1104.64,183.47 1105.92,183.42 1107.20,183.38 1108.48,183.34 1109.76,183.30 1111.04,183.26 1112.32,183.22 1113.60,183.18 1114.88,183.14 1116.16,183.10 1117.44,183.07 1118.72,183.03 1120.00,182.99 1121.28,182.96 1122.56,182.92 1123.84,182.88 1125.12,182.85 1126.40,182.81 1127.68,182.78 1128.96,182.75 1130.24,182.71 1131.52,182.68 1132.80,182.65 1134.08,182.61 1135.36,182.58 1136.64,182.55 1137.92,182.52 1139.20,182.49 1140.48,182.46 1141.76,182.43 1143.04,182.40 1144.32,182.37 1145.60,182.34 1146.88,182.31 1148.16,182.28 1149.44,182.25 1150.72,182.22 1152.00,182.20 1153.28,182.17 1154.56,182.14 1155.84,182.11 1157.12,182.09 1158.40,182.06 1159.68,182.04 1160.96,182.01 1162.24,181.99 1163.52,181.96 1164.80,181.94 1166.08,181.91 1167.36,181.89 1168.64,181.86 1169.92,181.84 1171.20,181.82 1172.48,181.79 1173.76,181.77 1175.04,181.75 1176.32,181.73 1177.60,181.71 1178.88,181.68 1180.16,181.66 1181.44,181.64 1182.72,181.62 1184.00,181.60 1185.28,181.58 1186.56,181.56 1187.84,181.54 1189.12,181.52 1190.40,181.50 1191.68,181.48 1192.96,181.46 1194.24,181.44 1195.52,181.43 1196.80,181.41 1198.08,181.39 1199.36,181.37 1200.64,181.35 1201.92,181.34 1203.20,181.32 1204.48,181.30 1205.76,181.28 1207.04,181.27 1208.32,181.25 1209.60,181.23 1210.88,181.22 1212.16,181.20 1213.44,181.19 1214.72,181.17 1216.00,181.16 1217.28,181.14 1218.56,181.13 1219.84,181.11 1221.12,181.10 1222.40,181.08"/>
<g class="ln" stroke="#000">
<path d="M198.4 764.16H1222.4"/>
<path d="M198.4 764.16v19.2"/>
<path d="M454.4 764.16v19.2"/>
<path d="M710.4 764.16v19.2"/>
<path d="M966.4 764.16v19.2"/>
<path d="M1222.4 764.16v19.2"/>
<path d="M157.44 741.69V179.91"/>
<path d="M157.44 741.69h-19.2"/>
<path d="M157.44 629.33h-19.2"/>
<path d="M157.44 516.98h-19.2"/>
<path d="M157.44 404.62h-19.2"/>
<path d="M157.44 292.27h-19.2"/>
<path d="M157.44 179.91h-19.2"/>
<path d="M157.44 764.16H1263.36V157.44H157.44Z"/>
</g>
<text transform="translate(198.40 833.75) scale(1 1.03)" font-size="32" text-anchor="middle">-4</text>
<text transform="translate(454.40 833.75) scale(1 1.03)" font-size="32" text-anchor="middle">-2</text>
<text transform="translate(710.40 833.75) scale(1 1.03)" font-size="32" text-anchor="middle">0</text>
<text transform="translate(966.40 833.75) scale(1 1.03)" font-size="32" text-anchor="middle">2</text>
<text transform="translate(1222.40 833.75) scale(1 1.03)" font-size="32" text-anchor="middle">4</text>
<text transform="translate(110.90 741.69) rotate(-90) scale(1 1.03)" font-size="32" text-anchor="middle">0.0</text>
<text transform="translate(110.90 629.33) rotate(-90) scale(1 1.03)" font-size="32" text-anchor="middle">0.2</text>
<text transform="translate(110.90 516.98) rotate(-90) scale(1 1.03)" font-size="32" text-anchor="middle">0.4</text>
<text transform="translate(110.90 404.62) rotate(-90) scale(1 1.03)" font-size="32" text-anchor="middle">0.6</text>
<text transform="translate(110.90 292.27) rotate(-90) scale(1 1.03)" font-size="32" text-anchor="middle">0.8</text>
<text transform="translate(110.90 179.91) rotate(-90) scale(1 1.03)" font-size="32" text-anchor="middle">1.0</text>
<rect x="157.44" y="157.44" width="254.0" height="153.6" fill="#fff" stroke="#000" stroke-width="2"/>
<path class="ln" stroke="#000" stroke-dasharray="10.667 10.667" d="M186.24 195.84h57.6"/>
<text transform="translate(272.64 207.84) scale(1 1.03)" font-size="32">True</text>
<path class="ln" stroke="#f00" stroke-dasharray="10.667 10.667" d="M186.24 234.24h57.6"/>
<text transform="translate(272.64 246.24) scale(1 1.03)" font-size="32">ASH</text>
<path class="ln" stroke="#00f" d="M186.24 272.64h57.6"/>
<text transform="translate(272.64 284.64) scale(1 1.03)" font-size="32">GD-ASH</text>
<text transform="translate(607.30 97.80) scale(1 1.03)" font-size="38.4">G: CDF of g</text>
<text transform="translate(621.85 66.9) scale(0.89 1.033)" x="0" y="13.1" font-size="38.4" text-anchor="middle">^</text>
<text transform="translate(801.9 74.9) scale(0.89 1.033)" x="0" y="13.1" font-size="38.4" text-anchor="middle">^</text>
<text class="sym" x="710.0" y="904" font-size="32" text-anchor="middle">β</text>
<g transform="translate(27.0 495.9) rotate(-90)"><text transform="scale(1 1.06)" x="0" y="0" font-size="32">G</text><text class="par" transform="translate(25.3 -2.2) scale(0.9 1)" font-size="40">(</text><text class="sym" x="38.1" y="0" font-size="32">β</text><text class="par" transform="translate(56.8 -2.2) scale(0.9 1)" font-size="40">)</text><text transform="translate(12.4 -25.8) scale(0.89 1.033)" x="0" y="10.9" font-size="32" text-anchor="middle">^</text></g>
</svg></body></html>
